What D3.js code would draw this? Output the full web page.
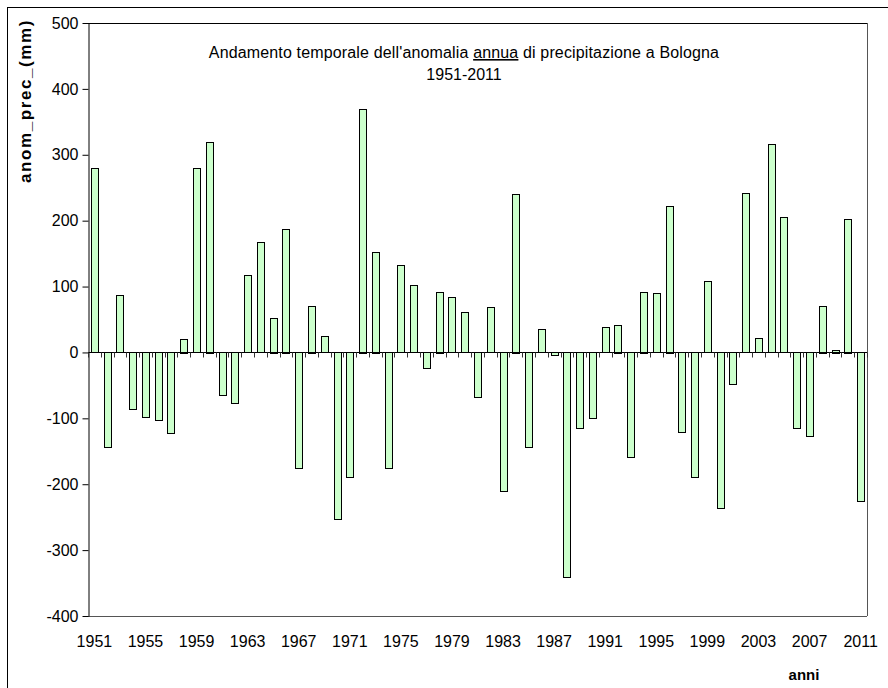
<!DOCTYPE html>
<html>
<head>
  <meta charset="UTF-8">
  <script src="https://d3js.org/d3.v7.min.js"></script>
  <style>
    body { margin: 0; background: #fff; }
    text { font-family: "Liberation Sans", Arial, sans-serif; fill: #000; }
  </style>
</head>
<body>
  <div id="my_dataviz"></div>
  <script>
    // years 1951-2011
    var years = d3.range(1951, 2012);

    // annual precipitation anomaly (mm)
    var anomalies = [
      280, -144, 87, -86, -98, -103, -123, 21, 280, 320,
      -65, -77, 117, 167, 53, 188, -176, 71, 25, -253,
      -190, 370, 153, -176, 132, 102, -25, 92, 84, 61,
      -69, 69, -211, 241, -144, 35, -4, -341, -115, -100,
      38, 42, -159, 92, 90, 223, -121, -190, 108, -237,
      -48, 242, 22, 316, 205, -115, -128, 71, 4, 203,
      -226
    ];

    var yTicks = [-400, -300, -200, -100, 0, 100, 200, 300, 400, 500];
    var xTickLabels = d3.range(1951, 2012, 4);

    var width = 888, height = 688;
    var plot = { left: 88, top: 23, right: 867, bottom: 616 };

    var svg = d3.select("#my_dataviz").append("svg")
      .attr("width", width)
      .attr("height", height);

    // outer chart frame
    svg.append("rect")
      .attr("x", 7.5).attr("y", 7.5)
      .attr("width", 900).attr("height", 700)
      .attr("fill", "none")
      .attr("stroke", "#000")
      .attr("stroke-width", 1);

    var x = d3.scaleBand()
      .domain(years)
      .range([plot.left, plot.right])
      .paddingInner(0.45)
      .paddingOuter(0.225);

    var xCat = d3.scaleBand()
      .domain(years)
      .range([plot.left, plot.right]);

    var y = d3.scaleLinear()
      .domain([-400, 500])
      .range([plot.bottom, plot.top]);

    // plot area border (top/right/bottom)
    svg.append("line")
      .attr("x1", plot.left).attr("x2", plot.right)
      .attr("y1", plot.top + 0.5).attr("y2", plot.top + 0.5)
      .attr("stroke", "#000");
    svg.append("line")
      .attr("x1", plot.right + 0.5).attr("x2", plot.right + 0.5)
      .attr("y1", plot.top).attr("y2", plot.bottom)
      .attr("stroke", "#555");
    svg.append("line")
      .attr("x1", plot.left).attr("x2", plot.right)
      .attr("y1", plot.bottom + 0.5).attr("y2", plot.bottom + 0.5)
      .attr("stroke", "#555");

    // bars
    svg.selectAll(".bar")
      .data(anomalies)
      .enter()
      .append("rect")
      .attr("class", "bar")
      .attr("x", function (d, i) { return Math.round(x(years[i])) + 0.5; })
      .attr("y", function (d) { return Math.round(y(Math.max(0, d))) + 0.5; })
      .attr("width", Math.round(x.bandwidth()))
      .attr("height", function (d) { return Math.max(1, Math.round(Math.abs(y(d) - y(0)))); })
      .attr("fill", "#ccffcc")
      .attr("stroke", "#000")
      .attr("stroke-width", 1);

    // y axis
    var yAxis = svg.append("g")
      .attr("transform", "translate(" + (plot.left + 0.5) + ",0)")
      .call(d3.axisLeft(y).tickValues(yTicks).tickSize(6).tickPadding(4).tickSizeOuter(0)
        .tickFormat(function (d) { return String(d); }));
    yAxis.select(".domain").attr("stroke", "#000");
    yAxis.selectAll("line").attr("stroke", "#000");
    yAxis.selectAll("text")
      .style("font-size", "16px")
      .style("font-family", "'Liberation Sans', Arial, sans-serif")
      .attr("fill", "#000");

    // zero line with category ticks
    var zeroY = Math.round(y(0)) + 0.5;
    svg.append("line")
      .attr("x1", plot.left).attr("x2", plot.right)
      .attr("y1", zeroY).attr("y2", zeroY)
      .attr("stroke", "#000");
    svg.selectAll(".xtick")
      .data(years.concat([2012]))
      .enter()
      .append("line")
      .attr("class", "xtick")
      .attr("x1", function (d, i) { return Math.round(plot.left + i * xCat.step()) + 0.5; })
      .attr("x2", function (d, i) { return Math.round(plot.left + i * xCat.step()) + 0.5; })
      .attr("y1", zeroY)
      .attr("y2", zeroY + 5)
      .attr("stroke", "#333");

    // x tick labels at the bottom
    svg.selectAll(".xlabel")
      .data(xTickLabels)
      .enter()
      .append("text")
      .attr("class", "xlabel")
      .attr("x", function (d) { return xCat(d) + xCat.bandwidth() / 2; })
      .attr("y", 647)
      .attr("text-anchor", "middle")
      .style("font-size", "16px")
      .text(function (d) { return d; });

    // y axis title
    svg.append("text")
      .attr("transform", "translate(31,101) rotate(-90)")
      .attr("text-anchor", "middle")
      .style("font-size", "17px")
      .style("font-weight", "bold")
      .style("letter-spacing", "1.6px")
      .text("anom_prec_(mm)");

    // x axis title
    svg.append("text")
      .attr("x", 804)
      .attr("y", 680)
      .attr("text-anchor", "middle")
      .style("font-size", "15px")
      .style("font-weight", "bold")
      .text("anni");

    // chart title
    var title = svg.append("text")
      .attr("x", 464)
      .attr("y", 58)
      .attr("text-anchor", "middle")
      .style("font-size", "16px")
      .style("letter-spacing", "0.15px");
    title.append("tspan").text("Andamento temporale dell'anomalia ");
    title.append("tspan").style("text-decoration", "underline").text("annua");
    title.append("tspan").text(" di precipitazione a Bologna");

    svg.append("text")
      .attr("x", 464)
      .attr("y", 80)
      .attr("text-anchor", "middle")
      .style("font-size", "16px")
      .text("1951-2011");
  </script>
</body>
</html>
